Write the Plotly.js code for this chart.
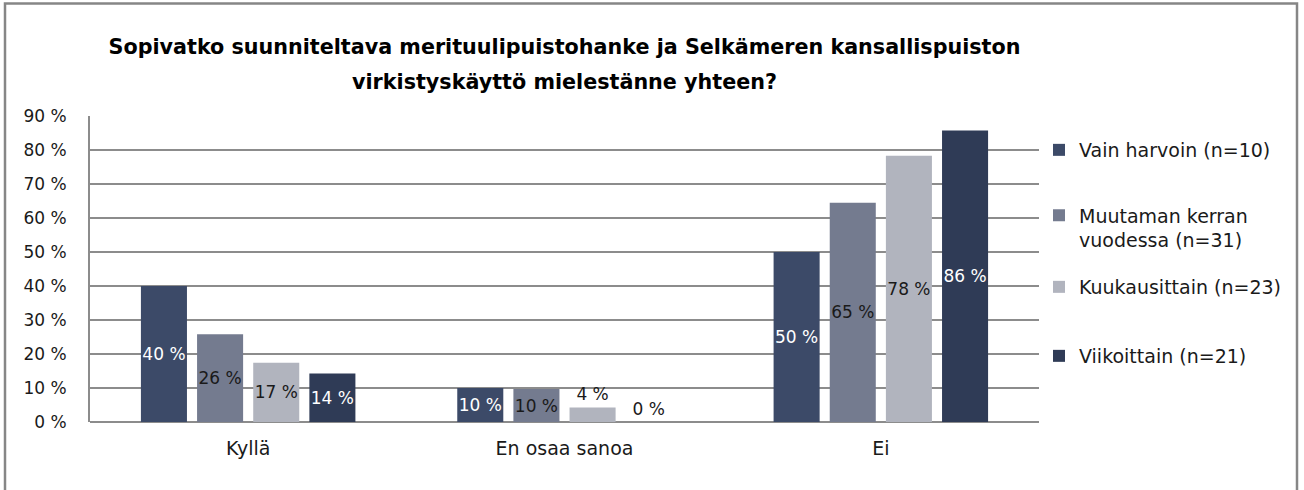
<!DOCTYPE html>
<html>
<head>
<meta charset="utf-8">
<script src="https://cdn.plot.ly/plotly-3.0.1.min.js"></script>
<style>html,body{margin:0;padding:0;background:#fff;}#chart{width:1304px;height:490px;}</style>
</head>
<body>
<div id="chart"></div>
<script>
const categories = ["Kyllä", "En osaa sanoa", "Ei"];
const seriesNames = ["Vain harvoin (n=10)", "Muutaman kerran<br>vuodessa (n=31)", "Kuukausittain (n=23)", "Viikoittain (n=21)"];
const vainHarvoin = [40, 10, 50];
const muutamanKerran = [25.8, 9.7, 64.5];
const kuukausittain = [17.4, 4.3, 78.3];
const viikoittain = [14.3, 0, 85.7];
const yTicks = [0, 10, 20, 30, 40, 50, 60, 70, 80, 90];
const titleLines = ["Sopivatko suunniteltava merituulipuistohanke ja Selkämeren kansallispuiston", "virkistyskäyttö mielestänne yhteen?"];

const colors = ["#3c4a68", "#747b8f", "#b1b4be", "#2f3b56"];
const labelColors = ["#ffffff", "#1a1a1a", "#1a1a1a", "#ffffff"];
const allSeries = [vainHarvoin, muutamanKerran, kuukausittain, viikoittain];
const legendIds = ["legend", "legend2", "legend3", "legend4"];
const FONT = "'DejaVu Sans', sans-serif";

const traces = allSeries.map((vals, i) => {
  const pos = vals.map(v => v < 7 ? "outside" : "inside");
  const tcol = vals.map(v => v < 7 ? "#1a1a1a" : labelColors[i]);
  return {
    type: "bar",
    name: seriesNames[i],
    x: categories,
    y: vals,
    marker: {color: colors[i]},
    text: vals.map(v => Math.round(v) + " %"),
    textposition: pos,
    textangle: 0,
    insidetextanchor: "middle",
    constraintext: "none",
    cliponaxis: false,
    textfont: {family: FONT, size: 17, color: tcol},
    hoverinfo: "skip",
    legend: legendIds[i]
  };
});

const px2x = p => (p - 90) / 949;
const px2y = p => (422 - p) / 306;
const legendBase = {
  font: {family: FONT, size: 19, color: "#1a1a1a"},
  bgcolor: "rgba(0,0,0,0)",
  xanchor: "left",
  yanchor: "middle",
  x: px2x(1039),
  itemwidth: 30
};

const layout = {
  width: 1304,
  height: 490,
  margin: {l: 90, r: 265, t: 116, b: 68},
  paper_bgcolor: "#ffffff",
  plot_bgcolor: "#ffffff",
  font: {family: FONT, color: "#1a1a1a"},
  title: {
    text: titleLines.map(t => "<span style=\"font-size:20.7px\"><b>" + t + "</b></span>").join("<br>"),
    font: {family: FONT, size: 27, color: "#000000"},
    x: 0.5, xref: "paper", xanchor: "center",
    y: 1 - 54 / 490, yref: "container", yanchor: "middle"
  },
  barmode: "group",
  bargap: 0.29,
  bargroupgap: 0.18,
  xaxis: {
    type: "category",
    showgrid: false,
    showline: false,
    ticks: "",
    tickfont: {family: FONT, size: 19, color: "#1a1a1a"},
    ticklabelstandoff: 13,
    fixedrange: true
  },
  yaxis: {
    range: [0, 90],
    tickvals: yTicks,
    ticktext: yTicks.map(v => v + " %"),
    showgrid: true,
    gridcolor: "#8c8c8c",
    gridwidth: 2,
    zeroline: true,
    zerolinecolor: "#8c8c8c",
    zerolinewidth: 2,
    showline: true,
    linecolor: "#8c8c8c",
    linewidth: 2,
    ticks: "",
    tickfont: {family: FONT, size: 17, color: "#1a1a1a"},
    ticklabelstandoff: 18,
    fixedrange: true
  },
  legend: Object.assign({}, legendBase, {y: px2y(150)}),
  legend2: Object.assign({}, legendBase, {y: px2y(228), valign: "top"}),
  legend3: Object.assign({}, legendBase, {y: px2y(287)}),
  legend4: Object.assign({}, legendBase, {y: px2y(356)}),
  shapes: [{
    type: "rect", xref: "paper", yref: "paper",
    x0: px2x(5), x1: px2x(1297), y0: px2y(500), y1: px2y(3.5),
    line: {color: "#868686", width: 2.5}, fillcolor: "rgba(0,0,0,0)", layer: "below"
  }],
  showlegend: true
};

Plotly.newPlot("chart", traces, layout, {staticPlot: true, displayModeBar: false});
</script>
</body>
</html>
